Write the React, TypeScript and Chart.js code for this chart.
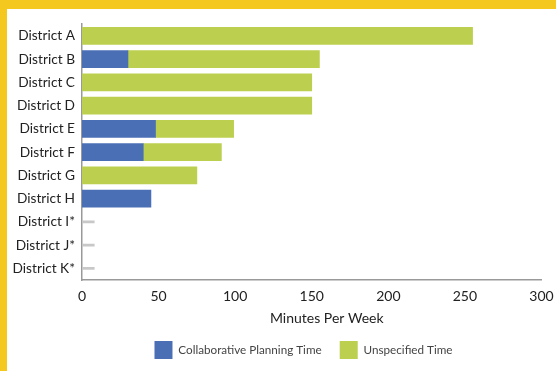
import React, { useEffect, useRef } from "react";
import { Chart, registerables } from "chart.js";

Chart.register(...registerables);

const districts = [
  "District A", "District B", "District C", "District D", "District E", "District F",
  "District G", "District H", "District I*", "District J*", "District K*",
];
const collaborative = [null, 30, null, null, 48, 40, null, 45, null, null, null];
const unspecified = [255, 125, 150, 150, 51, 51, 75, null, null, null, null];
// short grey stubs for districts without reported time
const noData = [null, null, null, null, null, null, null, null, 8, 8, 8];
const xTicks = [0, 50, 100, 150, 200, 250, 300];
const xTitle = "Minutes Per Week";

const FONT = "Lato, 'Open Sans', sans-serif";

// x-axis title, set slightly right of the plot centre; legend nudged right as well
const axisTitle = {
  id: "axisTitle",
  afterLayout(chart: any) {
    const lg = chart.legend;
    if (lg) {
      lg.left += 22;
      lg.right += 22;
    }
  },
  afterDraw(chart: Chart) {
    const { ctx, chartArea } = chart;
    ctx.save();
    ctx.font = `14px ${FONT}`;
    ctx.fillStyle = "#222";
    ctx.textAlign = "center";
    ctx.textBaseline = "middle";
    ctx.fillText(xTitle, (chartArea.left + chartArea.right) / 2 + 15, chartArea.bottom + 38);
    ctx.restore();
  },
};

export default function App() {
  const ref = useRef<HTMLCanvasElement | null>(null);

  useEffect(() => {
    document.body.style.margin = "0";
    const canvas = ref.current;
    if (!canvas) return;
    const chart = new Chart(canvas, {
      type: "bar",
      data: {
        labels: districts,
        datasets: [
          {
            label: "Collaborative Planning Time",
            data: collaborative,
            backgroundColor: "#4a6fb5",
            barThickness: 17,
          },
          {
            label: "Unspecified Time",
            data: unspecified,
            backgroundColor: "#bccf4f",
            barThickness: 17,
          },
          {
            label: "none",
            data: noData,
            backgroundColor: "#c8c8c8",
            barThickness: 2,
          },
        ],
      },
      plugins: [axisTitle],
      options: {
        indexAxis: "y",
        responsive: false,
        animation: false,
        layout: { padding: { top: 12, right: 0, left: 0, bottom: 2 } },
        plugins: {
          tooltip: { enabled: false },
          legend: {
            position: "bottom",
            labels: {
              filter: (item) => item.text !== "none",
              boxWidth: 18,
              boxHeight: 18,
              padding: 18,
              color: "#444",
              font: { family: FONT, size: 11.7 },
            },
          },
        },
        scales: {
          x: {
            stacked: true,
            min: 0,
            max: 300,
            afterBuildTicks: (s) => {
              s.ticks = xTicks.map((v) => ({ value: v }));
            },
            afterFit: (s) => {
              s.height = 43;
              s.paddingLeft = 0;
              s.paddingRight = 14.5;
            },
            grid: { display: false, drawTicks: false },
            border: { color: "#999", width: 1.5 },
            ticks: {
              color: "#222",
              padding: 8,
              font: { family: FONT, size: 14 },
            },
          },
          y: {
            stacked: true,
            afterFit: (s) => {
              s.width = 75;
            },
            grid: { display: false, drawTicks: false },
            border: { color: "#999", width: 1.5 },
            ticks: {
              color: "#222",
              padding: 7,
              font: { family: FONT, size: 13.7 },
            },
          },
        },
      },
    });
    return () => chart.destroy();
  }, []);

  return (
    <div
      style={{
        width: 556,
        height: 371,
        boxSizing: "border-box",
        borderTop: "9px solid #f5c81f",
        borderLeft: "7px solid #f5c81f",
        background: "#fff",
      }}
    >
      <canvas ref={ref} width={549} height={362} style={{ display: "block" }} />
    </div>
  );
}
